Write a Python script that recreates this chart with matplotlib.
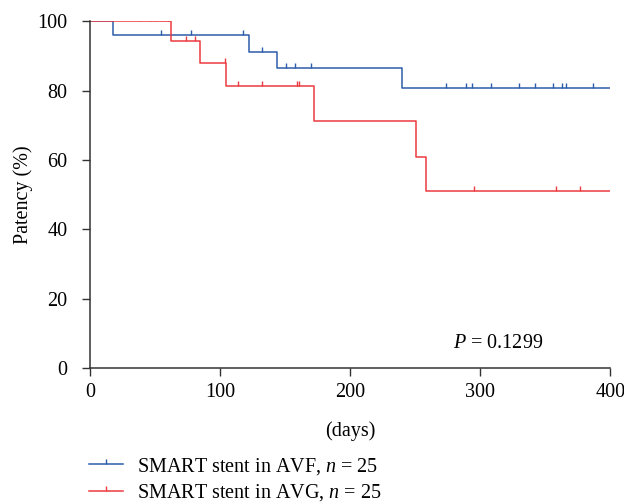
import numpy as np
import matplotlib
matplotlib.use("Agg")
import matplotlib.pyplot as plt
from matplotlib.lines import Line2D

plt.rcParams['font.family'] = ['Liberation Serif', 'DejaVu Serif']
plt.rcParams['mathtext.fontset'] = 'custom'
plt.rcParams['mathtext.rm'] = 'Liberation Serif'
plt.rcParams['mathtext.it'] = 'Liberation Serif:italic'

# ---- data ----
avf_times = [0, 18, 122, 144, 240, 400]
avf_surv = [100, 96.0, 91.2, 86.6, 80.8, 80.8]
avf_censor = [55, 78, 118, 132, 151, 158, 170, 274, 289, 294, 308, 330, 342,
              356, 363, 366, 387]

avg_times = [0, 62, 85, 105, 172, 251, 258, 400]
avg_surv = [100, 94.4, 88.0, 81.2, 71.3, 60.9, 50.9, 50.9]
avg_censor = [38, 46, 51, 55, 58, 60, 61, 74, 81, 104, 114, 132, 159, 161,
              295, 358, 377]

x_ticks = [0, 100, 200, 300, 400]
y_ticks = [0, 20, 40, 60, 80, 100]
labels = ["SMART stent in AVF, $n$ = 25", "SMART stent in AVG, $n$ = 25"]
p_text = "$P$ = 0.1299"

blue = '#2c5dab'
red = '#ec3b40'
FS = 14.5


def step_value(times, surv, t):
    idx = np.searchsorted(times, t, side='right') - 1
    return np.asarray(surv)[idx]


fig = plt.figure(figsize=(6.24, 5.04), dpi=100)
ax = fig.add_axes([0.144, 0.270, 0.834, 0.688])

for times, surv, cens, col in [(avf_times, avf_surv, avf_censor, blue),
                               (avg_times, avg_surv, avg_censor, red)]:
    ax.step(times, surv, where='post', color=col, lw=1.1, zorder=3)
    ax.plot(cens, step_value(times, surv, cens), linestyle='none',
            marker=2, markersize=3.5, markeredgewidth=1.0, color=col, zorder=3)

ax.set_xlim(0, 400)
ax.set_ylim(0, 100)
ax.set_xticks(x_ticks)
ax.set_yticks(y_ticks)
for s in ['top', 'right']:
    ax.spines[s].set_visible(False)
for s in ['left', 'bottom']:
    ax.spines[s].set_linewidth(1.1)
    ax.spines[s].set_color('#333333')
ax.tick_params(direction='out', length=6, width=1.0, colors='#333333',
               labelsize=FS, labelcolor='black')
ax.tick_params(axis='x', pad=5)
ax.tick_params(axis='y', pad=10)
ax.spines['left'].set_zorder(4)

ax.set_xlabel('(days)', fontsize=FS, labelpad=13.5)
ax.set_ylabel('Patency (%)', fontsize=FS, labelpad=3)

ax.text(279, 6.9, p_text, fontsize=FS, va='center', ha='left')

handles = [Line2D([], [], color=blue, lw=1.1, marker=2, markersize=3.5),
           Line2D([], [], color=red, lw=1.1, marker=2, markersize=3.5)]
fig.legend(handles, labels, loc='upper left', bbox_to_anchor=(0.1426, 0.096),
           frameon=False, fontsize=FS, handlelength=1.7, handletextpad=0.7,
           labelspacing=0.3, borderaxespad=0, borderpad=0)

fig.savefig('out.png', dpi=100)
